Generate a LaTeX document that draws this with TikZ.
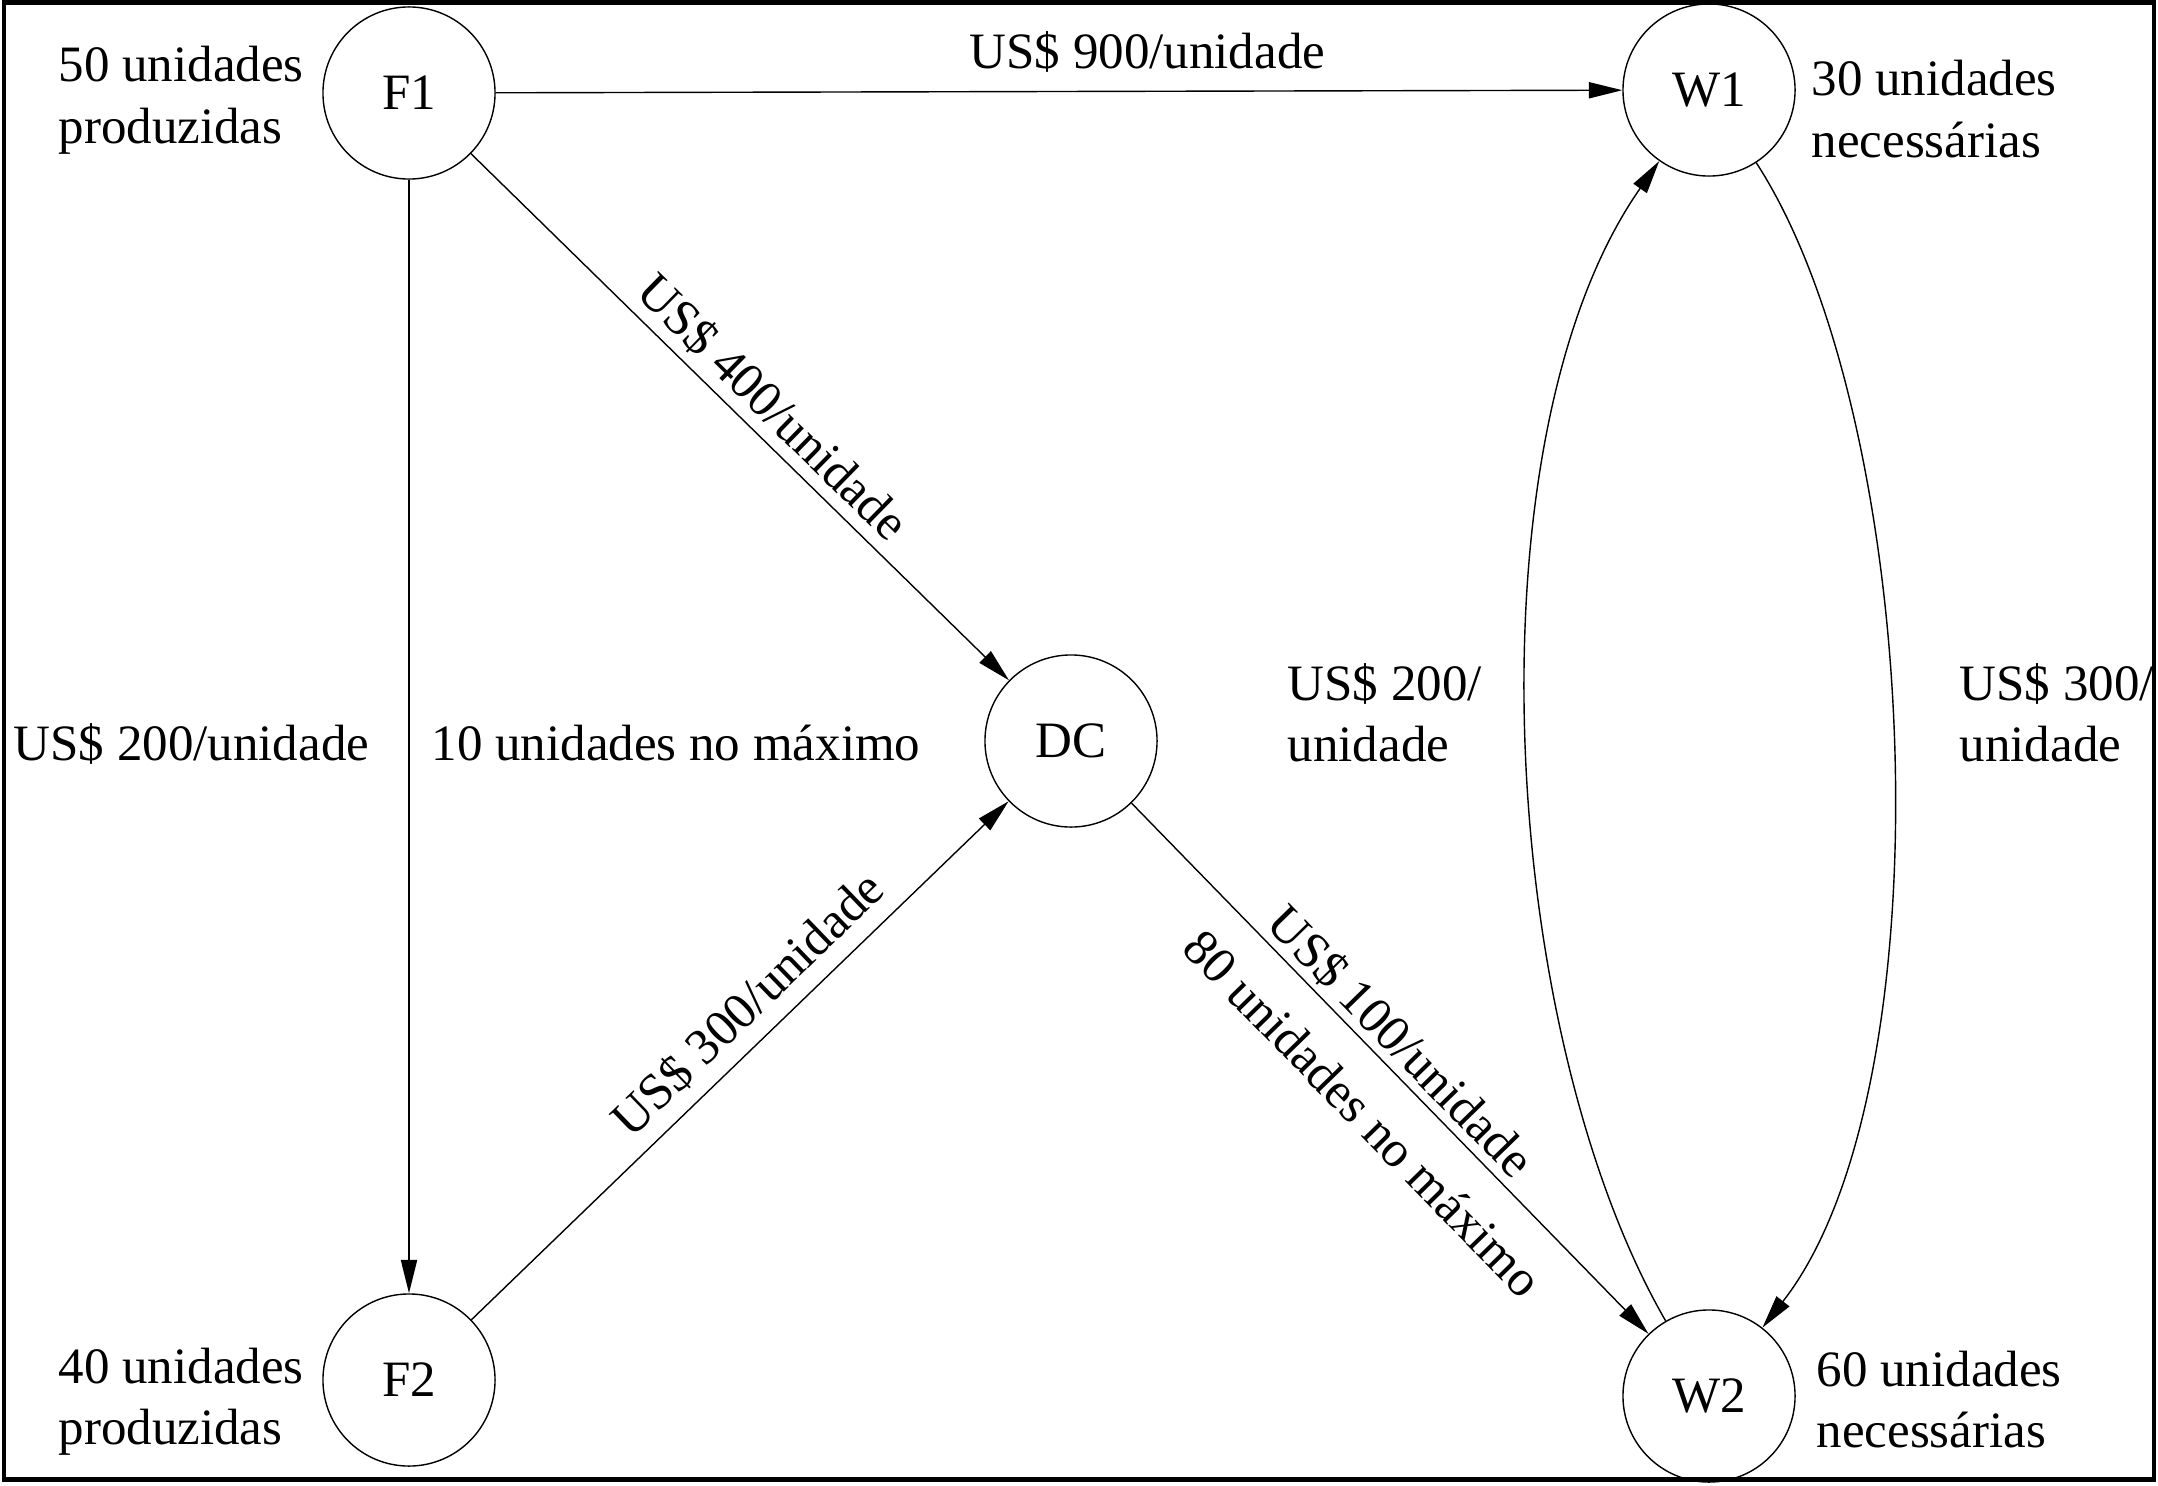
\documentclass[tikz,border=0pt]{standalone}
\usepackage{fontspec}
\setmainfont{Liberation Serif}
\usetikzlibrary{arrows.meta}
\newcommand{\twolines}[2]{\begin{tabular}[t]{@{}l@{}}#1\\#2\end{tabular}}
\begin{document}
\begin{tikzpicture}[x=0.01cm,y=0.01cm,
  font=\fontsize{14.5pt}{17.36pt}\selectfont,
  site/.style={circle,draw,line width=0.4pt,minimum size=1.72cm,inner sep=0pt},
  txt/.style={inner sep=0pt,anchor=base west},
  conn/.style={line width=0.4pt,-{Triangle[length=9.5pt,width=4.6pt]}},
  edgelbl/.style={sloped,pos=#1}
]
\useasboundingbox (0,0) rectangle (2158,-1485);
\draw[line width=1.3pt] (4,-2.3) rectangle (2154,-1479.5);

% sites
\node[site] (F1) at (409,-93) {F1};
\node[site] (W1) at (1709,-90) {W1};
\node[site] (DC) at (1071,-741) {DC};
\node[site] (F2) at (409,-1380) {F2};
\node[site] (W2) at (1709,-1396) {W2};

% free labels
\node[txt] (tF1) at (58,-82) {\twolines{50 unidades}{produzidas}};
\node[txt] (tF2) at (58,-1383) {\twolines{40 unidades}{produzidas}};
\node[txt] (tW1) at (1811,-96) {\twolines{30 unidades}{necessárias}};
\node[txt] (tW2) at (1816,-1386) {\twolines{60 unidades}{necessárias}};
\node[txt] (c900) at (969,-69) {US\$ 900/unidade};
\node[txt] (c200a) at (13,-760) {US\$ 200/unidade};
\node[txt] (cap10) at (431,-760) {10 unidades no máximo};
\node[txt] (c200b) at (1287,-700) {\twolines{US\$ 200/}{unidade}};
\node[txt] (c300b) at (1959,-700) {\twolines{US\$ 300/}{unidade}};

% connectors
\draw[conn] (F1) -- (W1);
\draw[conn] (F1) -- (F2);
\draw[conn] (F1) -- node[edgelbl=0.522,above,inner sep=2.5pt] (c400) {US\$ 400/unidade} (DC);
\draw[conn] (F2) -- node[edgelbl=0.56,above,inner sep=4pt] (c300) {US\$ 300/unidade} (DC);
\draw[conn] (DC) -- node[edgelbl=0.484,above,inner sep=1.5pt] (c100) {US\$ 100/unidade}
                    node[edgelbl=0.518,below,inner sep=9pt] (cap80) {80 unidades no máximo} (W2);
\draw[conn] (W2) to[out=120,in=235,looseness=0.74] (W1);
\draw[conn] (W1) to[out=-57,in=52,looseness=0.67] (W2);
\end{tikzpicture}
\end{document}
